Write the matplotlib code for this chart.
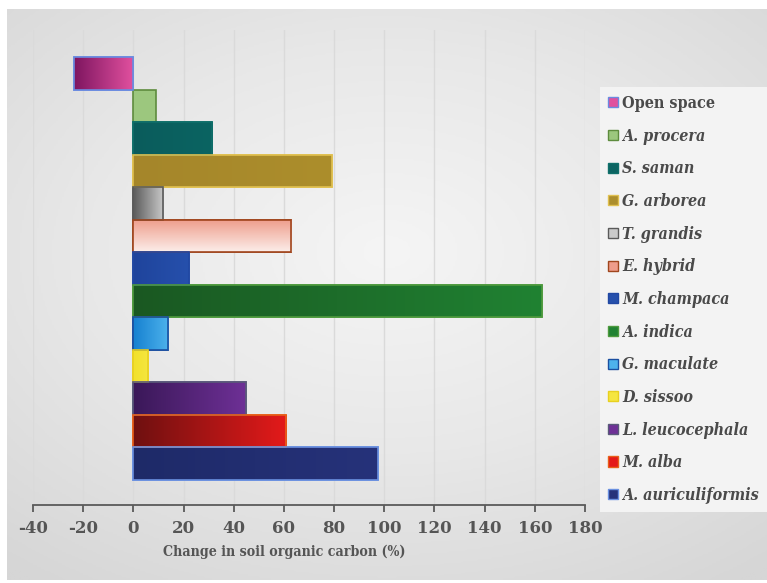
import numpy as np
import matplotlib
matplotlib.use("Agg")
import matplotlib.pyplot as plt
from matplotlib.patches import Patch
from matplotlib.colors import LinearSegmentedColormap

# Species / land-use categories (top to bottom)
species = ["Open space", "A. procera", "S. saman", "G. arborea", "T. grandis",
           "E. hybrid", "M. champaca", "A. indica", "G. maculate", "D. sissoo",
           "L. leucocephala", "M. alba", "A. auriculiformis"]

# Change in soil organic carbon (%)
soc_change = [-23.5, 9.0, 31.5, 79.0, 12.0, 63.0, 22.0, 163.0, 14.0, 6.0, 45.0, 61.0, 97.5]

x_ticks = [-40, -20, 0, 20, 40, 60, 80, 100, 120, 140, 160, 180]

# Fill gradients: (start colour, end colour, direction) and edge colours
fills = [
    ("#7E1560", "#E0509E", "h"),
    ("#9CC77E", "#9CC77E", "h"),
    ("#0A5C5C", "#0B6462", "h"),
    ("#A5862A", "#AC8E2C", "h"),
    ("#5A5A5A", "#CACACA", "h"),
    ("#EE9C8A", "#FCEEEA", "v"),
    ("#1F449C", "#2650AC", "h"),
    ("#1A5822", "#208232", "h"),
    ("#1580D0", "#4DB2EC", "h"),
    ("#F2E12A", "#F5E640", "h"),
    ("#3A1858", "#6E3096", "h"),
    ("#6E1010", "#E41A1A", "h"),
    ("#1E2A68", "#26327A", "h"),
]
edges = ["#6A8BE0", "#5E8C3E", "#0F6F6A", "#E0C050", "#5A5A5A", "#A0461E",
         "#2148A3", "#4E9A3E", "#1B4FA0", "#E8D020", "#5A5A7A", "#E8601A", "#6A90E0"]

text_col = "#555555"
serif = "DejaVu Serif"

fig = plt.figure(figsize=(7.67, 5.83), dpi=100, facecolor="white")

# Soft grey radial backdrop
bg = fig.add_axes([7 / 767, 3 / 583, 760 / 767, 571 / 583], zorder=-5)
yy, xx = np.mgrid[-1:1:300j, -1:1:400j]
r = np.sqrt((xx * 0.85) ** 2 + ((yy + 0.15) * 0.95) ** 2)
bg.imshow(r, cmap=LinearSegmentedColormap.from_list("bgc", ["#F5F5F5", "#E8E8E8", "#D6D6D6"]),
          vmin=0, vmax=1.35, aspect="auto", extent=[0, 1, 0, 1])
bg.set_axis_off()

ax = fig.add_axes([33 / 767, 78 / 583, 552 / 767, 475 / 583])
ax.set_facecolor("none")

pos = np.arange(len(species))
bars = ax.barh(pos, soc_change, height=1.0, color=[f[1] for f in fills],
               edgecolor=edges, linewidth=1.2, zorder=3)

# Gradient fills clipped to each bar
for b, (c0, c1, d) in zip(bars, fills):
    if c0 == c1:
        continue
    x0, y0 = b.get_x(), b.get_y()
    w, h = b.get_width(), b.get_height()
    cmap = LinearSegmentedColormap.from_list("g", [c0, c1])
    grad = np.linspace(0, 1, 256)
    img = grad[np.newaxis, :] if d == "h" else grad[:, np.newaxis]
    ext = [min(x0, x0 + w), max(x0, x0 + w), y0 + h, y0]
    im = ax.imshow(img, cmap=cmap, aspect="auto", extent=ext, origin="upper",
                   zorder=3.5, interpolation="bilinear")
    im.set_clip_path(b)
    ax.add_patch(plt.Rectangle((x0, y0), w, h, fill=False, edgecolor=b.get_edgecolor(),
                               linewidth=1.2, zorder=4))

ax.set_xlim(-40, 180)
ax.set_ylim(13.27, -1.33)

ax.set_xticks(x_ticks)
ax.set_xticklabels([str(t) for t in x_ticks])
ax.set_yticks([])
ax.grid(axis="x", color="#DADADA", linewidth=1.0, zorder=0)
ax.set_axisbelow(True)
for s in ["top", "right", "left"]:
    ax.spines[s].set_visible(False)
ax.spines["bottom"].set_color("#5A5A5A")
ax.spines["bottom"].set_linewidth(1.3)
ax.tick_params(axis="x", direction="out", length=5, width=1.3, color="#5A5A5A",
               labelcolor=text_col, labelsize=12, pad=6)
for lab in ax.get_xticklabels():
    lab.set_fontfamily(serif)
    lab.set_fontweight("bold")

ax.set_xlabel("Change in soil organic carbon (%)", fontsize=10.2, fontweight="bold",
              fontstretch="condensed", color=text_col, family=serif)
ax.xaxis.set_label_coords(0.455, -0.084)

handles = [Patch(facecolor=f[1] if f[2] == "h" else f[0], edgecolor=e, linewidth=1.0)
           for f, e in zip(fills, edges)]
leg = fig.legend(handles, species, loc="upper left",
                 bbox_to_anchor=(600 / 767, 1 - 87 / 583), frameon=True,
                 facecolor="#F3F3F3", edgecolor="none", framealpha=1.0,
                 fancybox=False,
                 prop={"family": serif, "size": 11.5, "weight": "bold", "stretch": "condensed"},
                 handlelength=0.6, handleheight=0.6, handletextpad=0.3,
                 labelspacing=0.98, borderpad=0.5, borderaxespad=0)
for i, t in enumerate(leg.get_texts()):
    t.set_color("#4A4A4A")
    if i > 0:
        t.set_fontstyle("italic")

fig.savefig("out.png", dpi=100, facecolor="white")
